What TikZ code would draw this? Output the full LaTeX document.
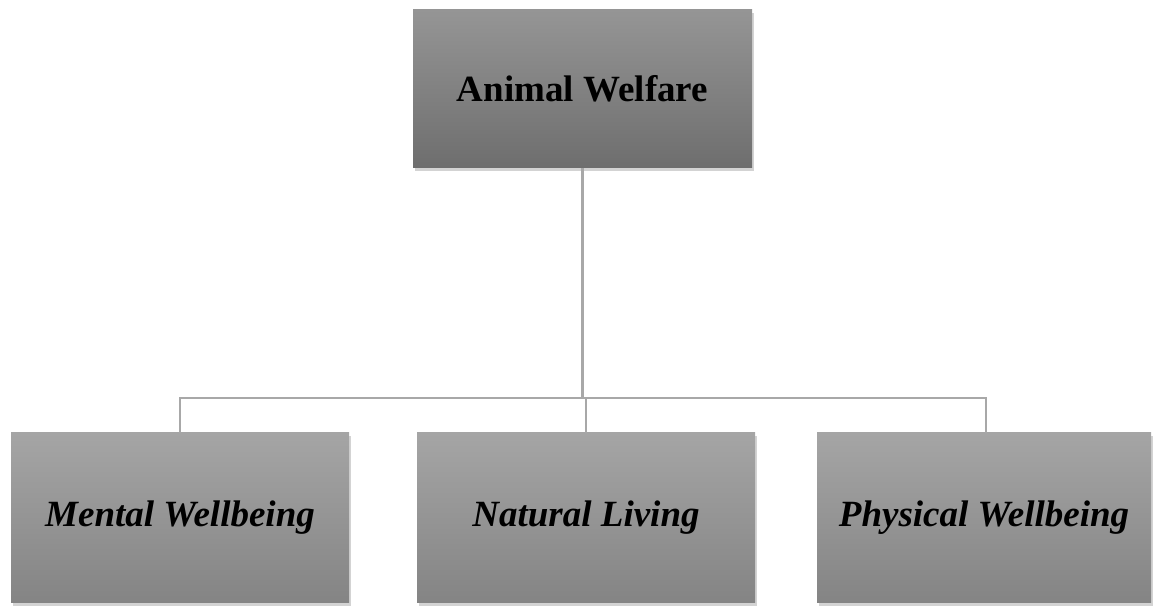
\documentclass[tikz,border=0pt]{standalone}
\usepackage{fontspec}
\setmainfont{Liberation Serif}
\usetikzlibrary{shadows}
\definecolor{linkgray}{HTML}{A8A8A8}
\definecolor{topA}{HTML}{959595}
\definecolor{topB}{HTML}{6E6E6E}
\definecolor{subA}{HTML}{A5A5A5}
\definecolor{subB}{HTML}{848484}
\tikzset{
  box/.style={rectangle, minimum height=170pt, shading=axis,
    top color=subA, bottom color=subB, inner sep=0pt,
    drop shadow={shadow xshift=1.5pt, shadow yshift=-3pt, opacity=0.35},
    font=\fontsize{37}{44}\selectfont\bfseries\itshape},
  headbox/.style={box, minimum width=339pt, minimum height=158pt,
    top color=topA, bottom color=topB,
    font=\fontsize{37}{44}\selectfont\bfseries},
  link/.style={draw=linkgray, line width=2.5pt}
}
\begin{document}
\begin{tikzpicture}[x=1pt,y=1pt]
\useasboundingbox (0,0) rectangle (1153,607);
\node[headbox] (welfare) at (582.5,518) {Animal Welfare};
\node[box, minimum width=338pt] (mental) at (180,89) {Mental Wellbeing};
\node[box, minimum width=338pt] (natural) at (586,89) {Natural Living};
\node[box, minimum width=334pt] (physical) at (984,89) {Physical Wellbeing};
% tree connectors
\coordinate (bar) at (582.5,209);
\draw[link] (welfare.south) -- (bar);
\draw[link] (mental.north) |- (bar) -| ([xshift=2pt]physical.north);
\draw[link] (natural.north) -- (natural.north |- bar);
\end{tikzpicture}
\end{document}
